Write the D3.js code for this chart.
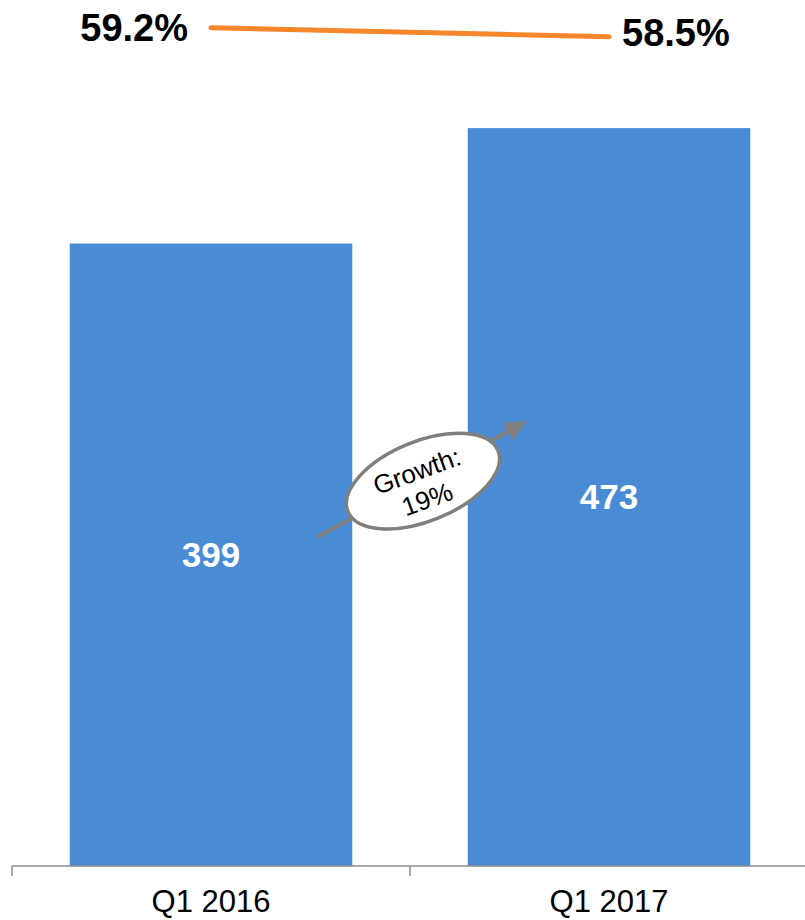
<!DOCTYPE html>
<html>
<head>
<meta charset="utf-8">
<script src="https://cdn.jsdelivr.net/npm/d3@7"></script>
<style>
	body { margin: 0; background: #fff; }
	svg { display: block; font-family: Arial, "Liberation Sans", sans-serif; }
	.c-rev__bar { fill: #4A8BD6; }
	.c-rev__bar-label { fill: #fff; font-weight: bold; font-size: 35px; }
	.c-rev__axis { stroke: #8C8C8C; stroke-width: 1.5; fill: none; }
	.c-rev__tick-label { fill: #000; font-size: 31px; }
	.c-rev__margin-line { stroke: #F5862A; stroke-width: 5; stroke-linecap: round; fill: none; }
	.c-rev__margin-label { fill: #000; font-weight: bold; font-size: 38px; }
	.c-rev__growth { stroke: #7F7F7F; stroke-width: 3.5; fill: #fff; }
	.c-rev__growth-arrow { stroke: #7F7F7F; stroke-width: 4; fill: none; }
	.c-rev__growth-head { fill: #7F7F7F; }
	.c-rev__growth-text { fill: #000; font-size: 26px; }
</style>
</head>
<body>
<svg id="chart" width="805" height="920"></svg>
<script>
var categories = ["Q1 2016", "Q1 2017"];
var revenue = [399, 473];
var grossMargin = [59.2, 58.5];

var chart = {
	classPrefix: "c-rev",
	initiate: function(){
		var self = this;
		self.svg = d3.select("#chart");
		self.width = 805;
		self.height = 920;

		//Band scale for the quarters, bars and line share it
		self.x = d3.scaleBand()
			.domain(categories)
			.range([12, 808])
			.paddingInner(0.29)
			.paddingOuter(0.145);

		self.y = d3.scaleLinear()
			.domain([0, 500])
			.range([866, 86]);

		//Margin % lives on its own scale at the top
		self.y2 = d3.scaleLinear()
			.domain([58, 60])
			.range([43.1, 17.4]);

		self.drawBars();
		self.drawAxis();
		self.drawGrowth();
		self.drawMargin();
	},
	drawBars: function(){
		var self = this, data = categories.map(function(c, i){ return {cat: c, value: revenue[i]}; });

		self.svg.selectAll("." + self.classPrefix + "__bar")
			.data(data)
			.enter().append("rect")
			.attr("class", self.classPrefix + "__bar")
			.attr("x", function(d){ return self.x(d.cat); })
			.attr("y", function(d){ return self.y(d.value); })
			.attr("width", self.x.bandwidth())
			.attr("height", function(d){ return self.y(0) - self.y(d.value); });

		//Value in the middle of each bar
		self.svg.selectAll("." + self.classPrefix + "__bar-label")
			.data(data)
			.enter().append("text")
			.attr("class", self.classPrefix + "__bar-label")
			.attr("text-anchor", "middle")
			.attr("x", function(d){ return self.x(d.cat) + self.x.bandwidth() / 2; })
			.attr("y", function(d){ return (self.y(d.value) + self.y(0)) / 2 + 12; })
			.text(function(d){ return d.value; });
	},
	drawAxis: function(){
		var self = this, base = self.y(0), r = self.x.range();

		self.svg.append("line")
			.attr("class", self.classPrefix + "__axis")
			.attr("x1", r[0])
			.attr("x2", self.width)
			.attr("y1", base)
			.attr("y2", base);

		//Ticks sit on the band boundaries
		d3.range(categories.length + 1).forEach(function(i){
			var tx = r[0] + i * self.x.step();
			self.svg.append("line")
				.attr("class", self.classPrefix + "__axis")
				.attr("x1", tx)
				.attr("x2", tx)
				.attr("y1", base)
				.attr("y2", base + 10);
		});

		self.svg.selectAll("." + self.classPrefix + "__tick-label")
			.data(categories)
			.enter().append("text")
			.attr("class", self.classPrefix + "__tick-label")
			.attr("text-anchor", "middle")
			.attr("x", function(d){ return self.x(d) + self.x.bandwidth() / 2; })
			.attr("y", base + 46)
			.text(function(d){ return d; });
	},
	drawGrowth: function(){
		var self = this;
		var growth = Math.round((revenue[1] / revenue[0] - 1) * 100);
		var half = 120;
		var cx = (self.x(categories[0]) + self.x(categories[1]) + self.x.bandwidth()) / 2 + 12,
			cy = self.y(248);

		//Arrow runs through the ellipse
		var arrow = self.svg.append("g")
			.attr("transform", "translate(" + cx + "," + cy + ") rotate(-29)");

		arrow.append("line")
			.attr("class", self.classPrefix + "__growth-arrow")
			.attr("x1", -half)
			.attr("x2", half - 16)
			.attr("y1", 0)
			.attr("y2", 0);

		arrow.append("path")
			.attr("class", self.classPrefix + "__growth-head")
			.attr("d", "M" + half + ",0L" + (half - 22) + ",-10L" + (half - 22) + ",10Z");

		self.svg.append("ellipse")
			.attr("class", self.classPrefix + "__growth")
			.attr("transform", "translate(" + (cx + 1) + "," + (cy + 2) + ") rotate(-22)")
			.attr("rx", 81)
			.attr("ry", 40);

		self.svg.append("text")
			.attr("class", self.classPrefix + "__growth-text")
			.attr("text-anchor", "middle")
			.attr("transform", "translate(" + cx + "," + (cy + 6) + ") rotate(-20)")
			.html("<tspan x='0' y='-6'>Growth:</tspan><tspan x='0' y='24'>" + growth + "%</tspan>");
	},
	drawMargin: function(){
		var self = this;
		var pts = categories.map(function(c, i){
			return {x: self.x(c) + self.x.bandwidth() / 2, y: self.y2(grossMargin[i]), v: grossMargin[i]};
		});

		self.svg.append("path")
			.attr("class", self.classPrefix + "__margin-line")
			.attr("d", d3.line().x(function(d){ return d.x; }).y(function(d){ return d.y; })(pts));

		self.svg.selectAll("." + self.classPrefix + "__margin-label")
			.data(pts)
			.enter().append("text")
			.attr("class", self.classPrefix + "__margin-label")
			.attr("text-anchor", function(d, i){ return i === 0 ? "end" : "start"; })
			.attr("x", function(d, i){ return i === 0 ? d.x - 23 : d.x + 13; })
			.attr("y", function(d, i){ return i === 0 ? d.y + 13 : d.y + 9.5; })
			.text(function(d){ return d.v.toFixed(1) + "%"; });
	}
};

chart.initiate();
</script>
</body>
</html>
